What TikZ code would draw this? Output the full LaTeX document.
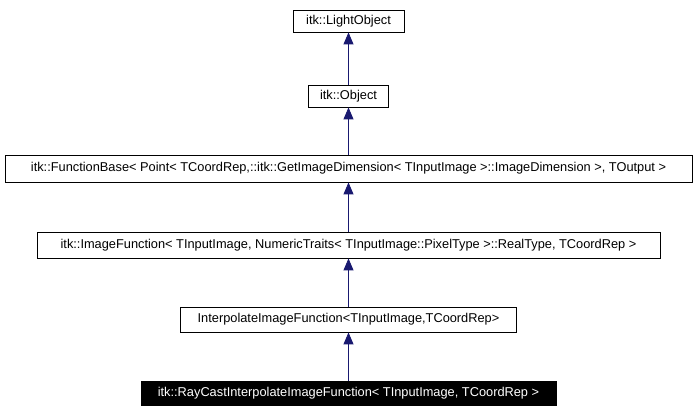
\documentclass[tikz,border=0pt]{standalone}
\usepackage{fontspec}
\setmainfont{Liberation Sans}
\usetikzlibrary{arrows.meta}
\definecolor{edgeblue}{HTML}{191970}

\begin{document}
\begin{tikzpicture}[x=1pt, y=-1pt,
        cls/.style={draw, line width=0.8pt, inner sep=0pt, minimum height=22pt,
            font=\fontsize{12.8}{14}\selectfont},
        leaf/.style={cls, fill=black, text=white},
        inh/.style={edgeblue, line width=0.9pt,
            -{Triangle[length=12pt, width=10pt]}}]
        \useasboundingbox (0,0) rectangle (696,411);
        \node[cls, minimum width=111pt] (light) at (348.5,21) {itk::LightObject};
        \node[cls, minimum width=80pt] (obj) at (348.5,96) {itk::Object};
        \node[cls, minimum width=687pt, minimum height=27pt] (fbase) at (348.5,168.5)
            {itk::FunctionBase< Point< TCoordRep,::itk::GetImageDimension< TInputImage >::ImageDimension >, TOutput >};
        \node[cls, minimum width=623pt, minimum height=26pt] (imgfn) at (348.5,245)
            {itk::ImageFunction< TInputImage, NumericTraits< TInputImage::PixelType >::RealType, TCoordRep >};
        \node[cls, minimum width=336pt, minimum height=25pt] (interp) at (348.5,319.5)
            {InterpolateImageFunction<TInputImage,TCoordRep>};
        \node[leaf, minimum width=415pt, minimum height=24pt] (raycast) at (348.5,393.5)
            {itk::RayCastInterpolateImageFunction< TInputImage, TCoordRep >};
        \draw[inh] (obj) -- (light);
        \draw[inh] (fbase) -- (obj);
        \draw[inh] (imgfn) -- (fbase);
        \draw[inh] (interp) -- (imgfn);
        \draw[inh] (raycast) -- (interp);
    \end{tikzpicture}
\end{document}
